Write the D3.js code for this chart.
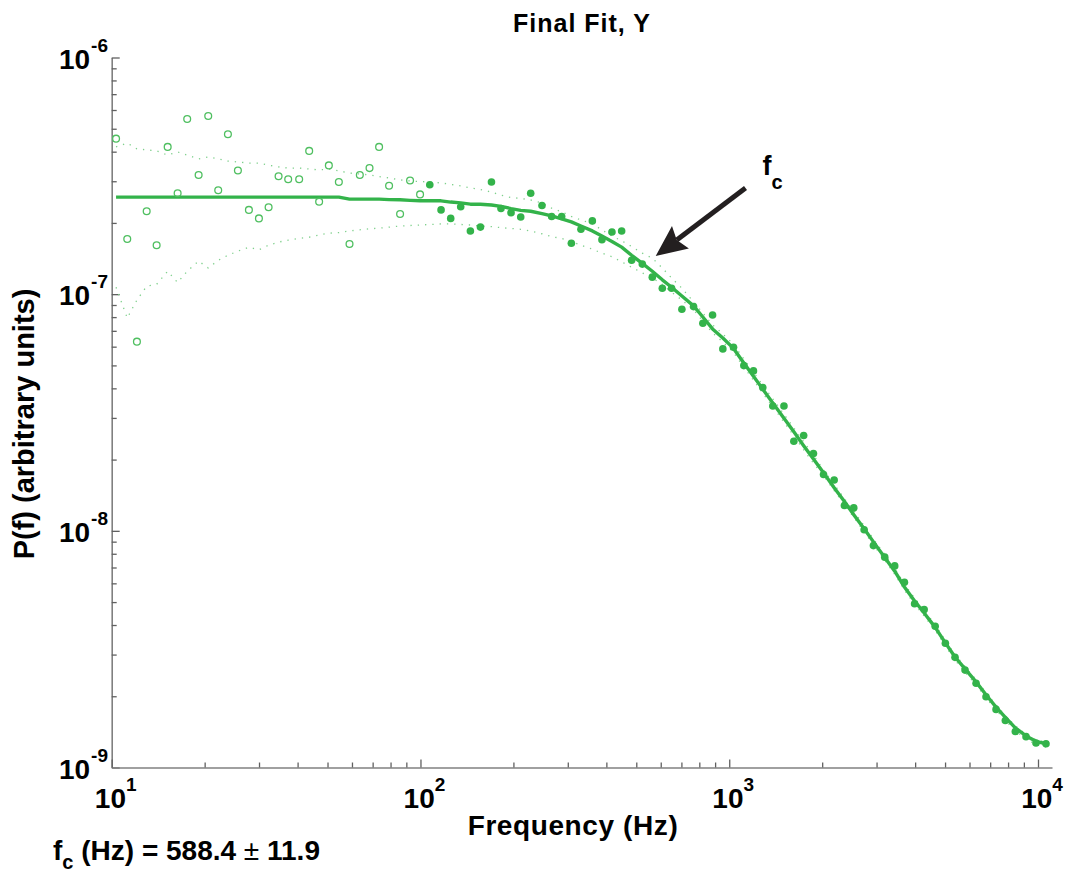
<!DOCTYPE html>
<html>
<head>
<meta charset="utf-8">
<script src="https://cdn.jsdelivr.net/npm/d3@7"></script>
<style>
  body { margin: 0; background: #fff; }
  svg { display: block; font-family: "Liberation Sans", Arial, Helvetica, sans-serif; font-weight: bold; }
</style>
</head>
<body>
<div id="chart"></div>
<script>
var w = 1066;
var h = 875;

// frequency of each spectrum bin (Hz)
var freq = [10.33, 11.23, 12.07, 12.98, 13.98, 15.18, 16.35, 17.56, 19.12, 20.54,
  22.13, 23.79, 25.63, 27.82, 29.98, 32.22, 34.71, 37.29, 40.47, 43.61,
  46.97, 50.50, 54.41, 58.91, 63.62, 68.39, 73.45, 79.13, 85.90, 92.53,
  99.7, 107.2, 116.6, 125.3, 135.0, 145.1, 156.4, 169.8, 182.3, 196.5,
  211.2, 227.5, 247.5, 266.0, 286.6, 308.1, 330.9, 360.3, 387.0, 417.0,
  448.3, 482.9, 523.0, 563.4, 607.1, 650.6, 702.5, 766.4, 821.4, 883.1,
  953.4, 1032.5, 1115, 1198, 1284, 1384, 1504, 1619, 1742, 1874,
  2020, 2187, 2361, 2531, 2735, 2931, 3189, 3435, 3693, 3984,
  4279, 4645, 5012, 5386, 5804, 6301, 6786, 7313, 7838, 8444,
  9146, 9851, 10614];

// measured power
var power = [4.54e-7, 1.71e-7, 6.30e-8, 2.24e-7, 1.61e-7, 4.19e-7, 2.67e-7, 5.50e-7, 3.19e-7, 5.66e-7,
  2.75e-7, 4.74e-7, 3.33e-7, 2.27e-7, 2.09e-7, 2.33e-7, 3.15e-7, 3.06e-7, 3.06e-7, 4.03e-7,
  2.46e-7, 3.50e-7, 2.98e-7, 1.63e-7, 3.19e-7, 3.41e-7, 4.19e-7, 2.87e-7, 2.18e-7, 3.02e-7,
  2.64e-7, 2.90e-7, 2.27e-7, 2.09e-7, 2.34e-7, 1.85e-7, 1.92e-7, 2.98e-7, 2.30e-7, 2.21e-7,
  2.12e-7, 2.67e-7, 2.37e-7, 2.13e-7, 2.13e-7, 1.64e-7, 1.88e-7, 2.04e-7, 1.70e-7, 1.83e-7,
  1.85e-7, 1.39e-7, 1.34e-7, 1.18e-7, 1.06e-7, 1.06e-7, 8.64e-8, 8.86e-8, 7.54e-8, 8.17e-8,
  5.87e-8, 5.97e-8, 4.99e-8, 4.74e-8, 4.03e-8, 3.37e-8, 3.37e-8, 2.39e-8, 2.53e-8, 2.12e-8,
  1.73e-8, 1.64e-8, 1.28e-8, 1.25e-8, 1.01e-8, 8.66e-9, 7.74e-9, 7.11e-9, 6.06e-9, 4.92e-9,
  4.65e-9, 3.95e-9, 3.35e-9, 2.92e-9, 2.58e-9, 2.27e-9, 1.99e-9, 1.76e-9, 1.58e-9, 1.42e-9,
  1.35e-9, 1.27e-9, 1.26e-9];

// fitted spectrum
var fit = [2.57e-7, 2.57e-7, 2.57e-7, 2.57e-7, 2.57e-7, 2.57e-7, 2.57e-7, 2.57e-7, 2.57e-7, 2.57e-7,
  2.57e-7, 2.57e-7, 2.57e-7, 2.57e-7, 2.57e-7, 2.57e-7, 2.57e-7, 2.57e-7, 2.57e-7, 2.57e-7,
  2.57e-7, 2.57e-7, 2.57e-7, 2.52e-7, 2.52e-7, 2.52e-7, 2.52e-7, 2.51e-7, 2.505e-7, 2.49e-7,
  2.48e-7, 2.48e-7, 2.48e-7, 2.45e-7, 2.43e-7, 2.40e-7, 2.40e-7, 2.38e-7, 2.35e-7, 2.30e-7,
  2.26e-7, 2.24e-7, 2.19e-7, 2.14e-7, 2.08e-7, 2.02e-7, 1.94e-7, 1.85e-7, 1.76e-7, 1.67e-7,
  1.58e-7, 1.46e-7, 1.35e-7, 1.25e-7, 1.15e-7, 1.07e-7, 9.83e-8, 8.92e-8, 8.01e-8, 7.13e-8,
  6.53e-8, 5.90e-8, 5.12e-8, 4.50e-8, 3.97e-8, 3.47e-8, 2.99e-8, 2.62e-8, 2.29e-8, 2.01e-8,
  1.76e-8, 1.52e-8, 1.33e-8, 1.17e-8, 1.02e-8, 8.98e-9, 7.72e-9, 6.75e-9, 5.79e-9, 5.05e-9,
  4.50e-9, 3.91e-9, 3.36e-9, 2.93e-9, 2.61e-9, 2.30e-9, 2.03e-9, 1.80e-9, 1.63e-9, 1.47e-9,
  1.36e-9, 1.29e-9, 1.26e-9];

// dotted envelopes
var upper = [4.19e-7, 4.35e-7, 4.11e-7, 4.07e-7, 4.03e-7, 3.87e-7, 3.99e-7, 3.87e-7, 3.73e-7, 3.80e-7,
  3.73e-7, 3.65e-7, 3.62e-7, 3.58e-7, 3.58e-7, 3.51e-7, 3.45e-7, 3.41e-7, 3.41e-7, 3.38e-7,
  3.35e-7, 3.38e-7, 3.32e-7, 3.25e-7, 3.22e-7, 3.19e-7, 3.14e-7, 3.10e-7, 3.04e-7, 3.01e-7,
  2.99e-7, 2.98e-7, 2.95e-7, 2.91e-7, 2.87e-7, 2.81e-7, 2.77e-7, 2.70e-7, 2.62e-7, 2.56e-7,
  2.54e-7, 2.50e-7, 2.43e-7, 2.31e-7, 2.23e-7, 2.13e-7, 2.06e-7, 1.98e-7, 1.87e-7, 1.76e-7,
  1.68e-7, 1.59e-7, 1.49e-7, 1.42e-7, 1.29e-7, 1.17e-7, 1.06e-7, 9.28e-8, 8.33e-8, 7.42e-8,
  6.79e-8, 6.14e-8, 5.32e-8, 4.68e-8, 4.13e-8, 3.61e-8, 3.11e-8, 2.72e-8, 2.38e-8, 2.09e-8,
  1.81e-8, 1.57e-8, 1.37e-8, 1.21e-8, 1.05e-8, 9.25e-9, 7.95e-9, 6.95e-9, 5.96e-9, 5.20e-9,
  4.62e-9, 4.01e-9, 3.44e-9, 3.00e-9, 2.67e-9, 2.35e-9, 2.07e-9, 1.84e-9, 1.66e-9, 1.50e-9,
  1.38e-9, 1.31e-9, 1.28e-9];

var lower = [1.07e-7, 7.93e-8, 9.45e-8, 1.08e-7, 1.10e-7, 1.25e-7, 1.12e-7, 1.25e-7, 1.38e-7, 1.29e-7,
  1.39e-7, 1.46e-7, 1.52e-7, 1.58e-7, 1.54e-7, 1.61e-7, 1.66e-7, 1.69e-7, 1.72e-7, 1.74e-7,
  1.78e-7, 1.81e-7, 1.82e-7, 1.85e-7, 1.87e-7, 1.89e-7, 1.90e-7, 1.92e-7, 1.94e-7, 1.95e-7,
  1.96e-7, 1.97e-7, 1.98e-7, 1.98e-7, 1.97e-7, 1.96e-7, 1.94e-7, 1.93e-7, 1.91e-7, 1.895e-7,
  1.88e-7, 1.85e-7, 1.80e-7, 1.75e-7, 1.72e-7, 1.67e-7, 1.61e-7, 1.55e-7, 1.49e-7, 1.44e-7,
  1.37e-7, 1.30e-7, 1.23e-7, 1.17e-7, 1.10e-7, 1.02e-7, 9.45e-8, 8.58e-8, 7.70e-8, 6.86e-8,
  6.28e-8, 5.67e-8, 4.92e-8, 4.33e-8, 3.82e-8, 3.34e-8, 2.88e-8, 2.52e-8, 2.20e-8, 1.93e-8,
  1.71e-8, 1.48e-8, 1.29e-8, 1.14e-8, 9.90e-9, 8.72e-9, 7.50e-9, 6.55e-9, 5.62e-9, 4.90e-9,
  4.37e-9, 3.80e-9, 3.26e-9, 2.84e-9, 2.53e-9, 2.23e-9, 1.97e-9, 1.75e-9, 1.58e-9, 1.43e-9,
  1.32e-9, 1.25e-9, 1.22e-9];

// bins below this frequency are drawn as open circles (excluded from fit)
var fitStart = 100;

var fc = 588.4, fcErr = 11.9;

var xTickExp = [1, 2, 3, 4];
var yTickExp = [-9, -8, -7, -6];

var green = "#33b34a";

var x = d3.scaleLog().domain([10, 11100]).range([111.7, 1052]);
var y = d3.scaleLog().domain([1e-9, 1e-6]).range([767.5, 57.5]);

var svg = d3.select("#chart")
    .append("svg")
    .attr("width", w)
    .attr("height", h);

var pts = freq.map(function(f, i) {
    return {f: f, p: power[i], fit: fit[i], up: upper[i], lo: lower[i]};
});

// axes, ticks pointing inward
var yAxis = svg.append("g")
    .attr("transform", "translate(" + x(10) + ",0)")
    .call(d3.axisLeft(y).tickSizeInner(-5).tickSizeOuter(0).tickFormat(""));
var xAxis = svg.append("g")
    .attr("transform", "translate(0," + y(1e-9) + ")")
    .call(d3.axisBottom(x).tickSizeInner(-5).tickSizeOuter(0).tickFormat(""));

[xAxis, yAxis].forEach(function(a) {
    a.select(".domain").attr("stroke", "#808080").attr("stroke-width", 1.6);
    a.selectAll(".tick line").attr("stroke", "#606060").attr("stroke-width", 1.3);
});
yAxis.selectAll(".tick line")
    .filter(function(d) { return Math.abs(Math.log10(d) - Math.round(Math.log10(d))) < 1e-6; })
    .attr("x2", 8);
xAxis.selectAll(".tick line")
    .filter(function(d) { return Math.abs(Math.log10(d) - Math.round(Math.log10(d))) < 1e-6; })
    .attr("y2", -8);

// tick labels 10^n
var yl = svg.append("g").selectAll("text")
    .data(yTickExp)
    .enter()
    .append("text")
    .attr("x", 84)
    .attr("y", function(d) { return y(Math.pow(10, d)) + 11; })
    .attr("text-anchor", "end")
    .attr("font-size", 28);
yl.append("tspan").text("10");
yl.append("tspan").attr("dy", -17).attr("font-size", 19).attr("dx", 1).text(function(d) { return d; });
// keep the "10" right aligned: shift so superscript hangs right
yl.attr("transform", function(d) { return "translate(" + (String(d).length * 10.5 + 3) + ",0)"; });

var xl = svg.append("g").selectAll("text")
    .data(xTickExp)
    .enter()
    .append("text")
    .attr("x", function(d) { return x(Math.pow(10, d)) + 4; })
    .attr("y", 808)
    .attr("text-anchor", "middle")
    .attr("font-size", 28);
xl.append("tspan").text("10");
xl.append("tspan").attr("dy", -17).attr("font-size", 19).text(function(d) { return d; });

// dotted envelopes
var band = function(key) {
    return d3.line().x(function(d) { return x(d.f); }).y(function(d) { return y(d[key]); });
};
["up", "lo"].forEach(function(k) {
    svg.append("path")
        .datum(pts)
        .attr("d", band(k))
        .attr("fill", "none")
        .attr("stroke", "#7fd08c")
        .attr("stroke-width", 1.3)
        .attr("stroke-dasharray", "1.3,6");
});

// fit line
svg.append("path")
    .datum(pts)
    .attr("d", d3.line().x(function(d) { return x(d.f); }).y(function(d) { return y(d.fit); }))
    .attr("fill", "none")
    .attr("stroke", green)
    .attr("stroke-width", 3.4)
    .attr("stroke-linejoin", "round");

// data points
svg.append("g").selectAll("circle")
    .data(pts)
    .enter()
    .append("circle")
    .attr("cx", function(d) { return x(d.f); })
    .attr("cy", function(d) { return y(d.p); })
    .attr("r", function(d) { return d.f < fitStart ? 3.4 : 3.8; })
    .attr("fill", function(d) { return d.f < fitStart ? "none" : green; })
    .attr("stroke", function(d) { return d.f < fitStart ? "#4fbf60" : "none"; })
    .attr("stroke-width", 1.3);

// arrow pointing at the corner frequency
var tip = [x(578), y(1.45e-7)];
var tail = [x(1129), y(2.81e-7)];
var dx = tail[0] - tip[0], dy = tail[1] - tip[1];
var len = Math.sqrt(dx * dx + dy * dy);
var ux = dx / len, uy = dy / len;
var headL = 31, headW = 14;
var back = [tip[0] + ux * headL * 0.85, tip[1] + uy * headL * 0.85];
svg.append("line")
    .attr("x1", tail[0]).attr("y1", tail[1])
    .attr("x2", back[0]).attr("y2", back[1])
    .attr("stroke", "#231f20")
    .attr("stroke-width", 5);
svg.append("polygon")
    .attr("points", [
        tip,
        [tip[0] + ux * headL - uy * headW, tip[1] + uy * headL + ux * headW],
        back,
        [tip[0] + ux * headL + uy * headW, tip[1] + uy * headL - ux * headW]
    ].map(function(p) { return p.join(","); }).join(" "))
    .attr("fill", "#231f20");

var fcLabel = svg.append("text")
    .attr("x", x(1282))
    .attr("y", y(3.19e-7))
    .attr("font-size", 27);
fcLabel.append("tspan").text("f");
fcLabel.append("tspan").attr("dy", 14).attr("font-size", 20).text("c");

// titles
svg.append("text")
    .attr("x", 582)
    .attr("y", 32)
    .attr("text-anchor", "middle")
    .attr("font-size", 25)
    .attr("letter-spacing", 1)
    .text("Final Fit, Y");

svg.append("text")
    .attr("x", 573)
    .attr("y", 835)
    .attr("text-anchor", "middle")
    .attr("font-size", 28)
    .attr("letter-spacing", 0.6)
    .text("Frequency (Hz)");

svg.append("text")
    .attr("transform", "translate(34,424) rotate(-90)")
    .attr("text-anchor", "middle")
    .attr("font-size", 29)
    .text("P(f) (arbitrary units)");

var foot = svg.append("text")
    .attr("x", 53)
    .attr("y", 860)
    .attr("font-size", 28);
foot.append("tspan").text("f");
foot.append("tspan").attr("dy", 9).attr("font-size", 20).text("c");
foot.append("tspan").attr("dy", -9).text(" (Hz) = " + fc.toFixed(1) + " ");
foot.append("tspan").attr("font-weight", "normal").text("\u00b1");
foot.append("tspan").text(" " + fcErr.toFixed(1));
</script>
</body>
</html>
